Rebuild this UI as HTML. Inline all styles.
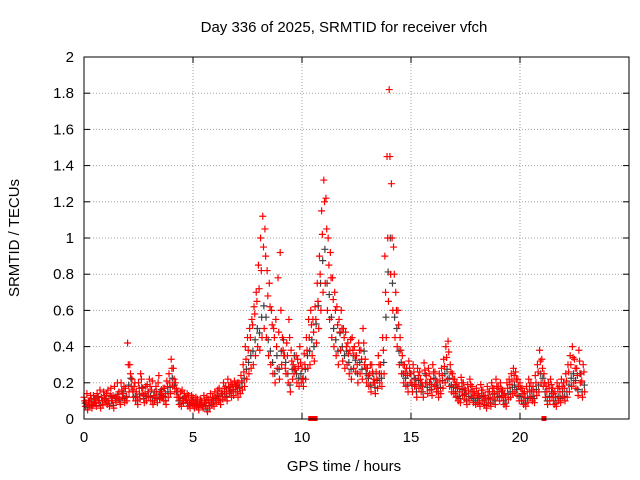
<!DOCTYPE html>
<html><head><meta charset="utf-8"><style>
html,body{margin:0;padding:0;background:#fff}
svg{display:block;font-family:"Liberation Sans",sans-serif;font-size:15px}
</style></head><body>
<svg id="chart" width="640" height="480">
<rect x="0" y="0" width="640" height="480" fill="#fff"/>
<g id="grid"></g>
<g id="points"></g>
<rect x="84" y="57" width="545" height="362" fill="none" stroke="#000" stroke-width="1"/>
<g id="ticks"></g>
<text x="344" y="32" text-anchor="middle">Day 336 of 2025, SRMTID for receiver vfch</text>
<text x="344" y="471" text-anchor="middle">GPS time / hours</text>
<text x="19" y="238" text-anchor="middle" transform="rotate(-90 19 238)">SRMTID / TECUs</text>
</svg>
<script>
const xTicks=[0,5,10,15,20];
const yTicks=[0,0.2,0.4,0.6,0.8,1,1.2,1.4,1.6,1.8,2];
const yTickLabels=["0","0.2","0.4","0.6","0.8","1","1.2","1.4","1.6","1.8","2"];
const timeStep=0.1;
const seriesHigh=[
.12,.09,.1,.13,.08,.11,.14,.1,.12,.15,
.11,.16,.13,.1,.18,.12,.15,.2,.14,.17,
.42,.3,.22,.18,.15,.2,.25,.17,.14,.19,
.22,.16,.13,.18,.2,.15,.12,.17,.21,.25,
.33,.28,.2,.15,.12,.16,.14,.11,.13,.1,
.12,.09,.11,.08,.1,.13,.09,.11,.14,.12,
.15,.13,.17,.14,.2,.18,.22,.16,.19,.21,
.18,.2,.24,.3,.4,.45,.5,.55,.62,.7,
.85,1.0,1.12,1.05,.82,.75,.6,.5,.55,.78,
.92,.45,.35,.42,.55,.38,.3,.27,.33,.4,
.28,.36,.45,.55,.6,.55,.62,.75,.9,1.15,
1.32,1.22,1.0,.92,.78,.7,.62,.55,.6,.5,
.48,.42,.38,.45,.4,.35,.42,.38,.5,.33,
.28,.25,.3,.22,.26,.35,.3,.45,.9,1.45,
1.82,1.3,.95,.7,.6,.45,.35,.3,.28,.32,
.25,.3,.22,.28,.26,.2,.31,.24,.28,.22,
.3,.26,.2,.25,.28,.33,.4,.43,.3,.25,
.22,.2,.18,.23,.2,.16,.19,.22,.18,.15,
.17,.14,.19,.16,.13,.18,.15,.2,.17,.22,
.18,.2,.16,.14,.2,.22,.25,.28,.26,.22,
.2,.17,.15,.18,.22,.2,.18,.24,.3,.38,
.33,.25,.18,.2,.22,.17,.15,.2,.18,.22,
.2,.25,.3,.35,.4,.33,.28,.38,.25,.3];
const seriesMid=[
.1,.14,.07,.11,.13,.09,.12,.16,.1,.13,
.14,.1,.17,.13,.12,.2,.11,.16,.18,.12,
.3,.25,.16,.2,.12,.17,.22,.13,.18,.15,
.18,.21,.1,.15,.24,.12,.17,.14,.18,.2,
.28,.22,.17,.12,.15,.1,.12,.14,.09,.13,
.1,.12,.08,.11,.07,.1,.12,.09,.1,.11,
.12,.16,.11,.15,.17,.15,.18,.2,.16,.18,
.2,.17,.21,.26,.33,.38,.45,.52,.58,.65,
.72,.82,.95,.9,.68,.62,.52,.45,.4,.48,
.6,.38,.28,.35,.45,.32,.25,.35,.29,.31,
.22,.3,.38,.45,.52,.48,.55,.65,.8,1.02,
1.2,1.05,.85,.78,.66,.6,.52,.48,.5,.45,
.4,.36,.44,.38,.35,.3,.38,.33,.42,.28,
.24,.3,.26,.2,.22,.3,.25,.38,.7,1.0,
1.45,1.0,.8,.6,.52,.38,.3,.26,.24,.28,
.2,.26,.19,.24,.22,.18,.27,.2,.25,.19,
.26,.22,.17,.21,.24,.29,.34,.37,.26,.22,
.19,.17,.15,.2,.17,.14,.16,.19,.15,.13,
.14,.12,.16,.13,.11,.15,.12,.17,.14,.18,
.15,.17,.13,.12,.17,.19,.21,.24,.22,.18,
.17,.14,.12,.15,.18,.16,.15,.2,.26,.32,
.28,.2,.15,.17,.19,.14,.12,.17,.15,.18,
.17,.21,.26,.3,.34,.28,.24,.32,.21,.26];
const seriesLow=[
.07,.05,.08,.06,.09,.07,.1,.06,.08,.09,
.08,.07,.1,.06,.09,.11,.08,.12,.09,.1,
.15,.18,.12,.1,.08,.11,.14,.09,.1,.12,
.1,.08,.12,.09,.11,.13,.1,.08,.12,.14,
.18,.15,.12,.08,.07,.09,.1,.07,.06,.08,
.06,.07,.05,.08,.06,.07,.04,.06,.08,.07,
.09,.1,.08,.11,.12,.1,.14,.12,.13,.15,
.12,.14,.16,.18,.22,.25,.28,.3,.35,.4,
.38,.45,.5,.45,.35,.3,.25,.2,.28,.22,
.3,.35,.25,.2,.15,.22,.28,.2,.18,.2,
.18,.22,.28,.3,.35,.32,.42,.5,.6,.7,
.75,.6,.55,.45,.4,.35,.3,.38,.32,.28,
.3,.25,.22,.28,.26,.2,.25,.22,.3,.2,
.18,.15,.2,.14,.17,.2,.18,.25,.45,.65,
.8,.6,.45,.4,.3,.25,.2,.18,.15,.2,
.15,.18,.12,.17,.15,.12,.2,.14,.16,.13,
.18,.15,.12,.14,.17,.2,.22,.18,.15,.14,
.12,.1,.09,.13,.11,.08,.1,.12,.09,.08,
.09,.07,.1,.08,.06,.09,.07,.11,.08,.12,
.1,.12,.08,.07,.11,.12,.14,.15,.13,.1,
.1,.08,.07,.09,.12,.1,.09,.13,.15,.2,
.18,.12,.08,.1,.12,.08,.07,.1,.09,.12,
.1,.12,.15,.18,.2,.17,.13,.2,.12,.15];
const zeroTimes=[10.4,10.6,21.1];
const zeroValues=[0,0,0];

const NS="http://www.w3.org/2000/svg";
const X0=84,X1=629,Y0=419,Y1=57;
const xScale=t=>X0+(t/25)*(X1-X0);
const yScale=v=>Y0-(v/2)*(Y0-Y1);
const grid=document.getElementById('grid');
const ticks=document.getElementById('ticks');
const pts=document.getElementById('points');
function mk(tag,attrs,parent){const e=document.createElementNS(NS,tag);for(const k in attrs)e.setAttribute(k,attrs[k]);parent.appendChild(e);return e;}
xTicks.forEach(t=>{
  const x=xScale(t);
  const g=mk('line',{x1:x,x2:x,y1:Y0,y2:Y1,stroke:'#a0a0a0','stroke-dasharray':'1,2'},grid);
  
  
  mk('line',{x1:x,x2:x,y1:Y0,y2:Y0-6,stroke:'#000'},ticks);
  mk('line',{x1:x,x2:x,y1:Y1,y2:Y1+6,stroke:'#000'},ticks);
  const l=mk('text',{x:x,y:Y0+23,'text-anchor':'middle'},ticks);
  l.textContent=String(t);
  
  
});
yTicks.forEach((v,i)=>{
  const y=yScale(v);
  const g=mk('line',{x1:X0,x2:X1,y1:y,y2:y,stroke:'#a0a0a0','stroke-dasharray':'1,2'},grid);
  
  
  mk('line',{x1:X0,x2:X0+6,y1:y,y2:y,stroke:'#000'},ticks);
  mk('line',{x1:X1,x2:X1-6,y1:y,y2:y,stroke:'#000'},ticks);
  const l=mk('text',{x:X0-10,y:y+5,'text-anchor':'end'},ticks);
  l.textContent=yTickLabels[i];
  
  
});
function plus(t,v,color,name){
  const x=xScale(t),y=yScale(v);
  const p=mk('path',{d:`M${x-3.5} ${y}H${x+3.5}M${x} ${y-3.5}V${y+3.5}`,stroke:color,'stroke-width':1.2,fill:'none'},pts);
  
  
}
seriesLow.forEach((v,i)=>plus(i*timeStep+0.05,v*1.25,'#404040','black-point'));
seriesHigh.forEach((v,i)=>plus(i*timeStep,v,'#ff0000','red-point'));
seriesMid.forEach((v,i)=>plus(i*timeStep+0.033,v,'#ff0000','red-point'));
seriesLow.forEach((v,i)=>plus(i*timeStep+0.066,v,'#ff0000','red-point'));
zeroTimes.forEach((t,i)=>{
  const x=xScale(t),y=yScale(zeroValues[i]);
  const r=mk('rect',{x:x-2.5,y:y-3,width:5,height:5,fill:'#ff0000'},pts);
  
  
});
</script>
</body></html>
